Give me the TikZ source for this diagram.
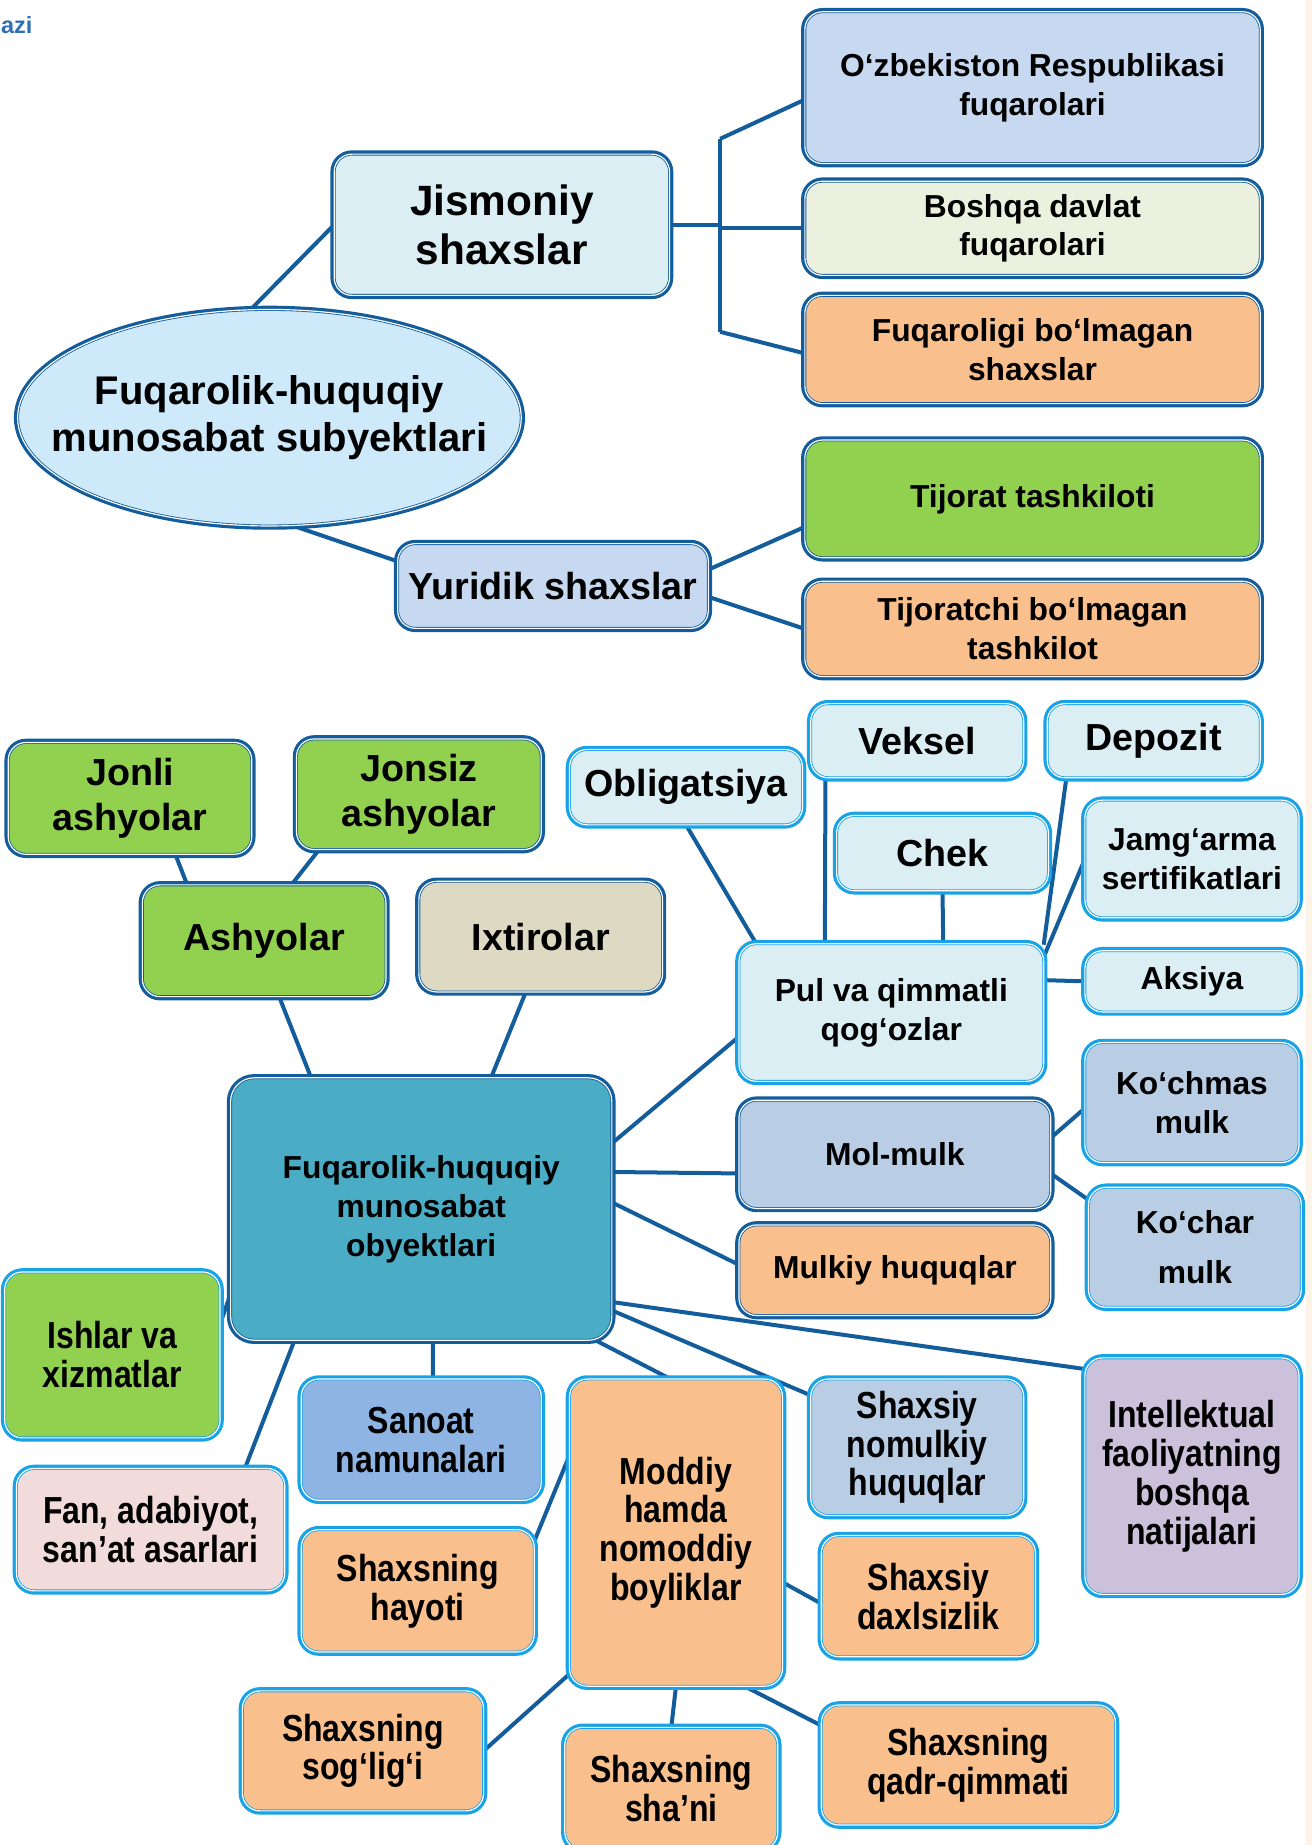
\documentclass[tikz,border=0pt]{standalone}
\usepackage{fontspec}
\setmainfont{Liberation Sans}
\newfontfamily\narrowfont{Liberation Sans}[FakeStretch=0.85]
\usetikzlibrary{shapes.geometric,positioning,backgrounds}

\definecolor{dkb}{HTML}{135D9C}
\definecolor{ltb}{HTML}{18A3E6}
\definecolor{pale}{HTML}{DAEEF3}
\definecolor{sky}{HTML}{CDE9FA}
\definecolor{steel}{HTML}{C6D9F1}
\definecolor{mint}{HTML}{EBF1DE}
\definecolor{peach}{HTML}{F9C08E}
\definecolor{leaf}{HTML}{92D050}
\definecolor{sand}{HTML}{DDD9C3}
\definecolor{mist}{HTML}{B9CDE5}
\definecolor{teal}{HTML}{4BACC6}
\definecolor{cobalt}{HTML}{8EB4E3}
\definecolor{rose}{HTML}{F2DCDB}
\definecolor{lilac}{HTML}{CCC1DA}
\definecolor{logoblue}{HTML}{2F6FB5}
\definecolor{cream}{HTML}{FDF3E6}

\tikzset{
  box/.style={rectangle, rounded corners=7.5pt, align=center, inner sep=1pt, outer sep=0pt,
    preaction={draw=#1, line width=3.2pt},
    postaction={draw=#1, double=white, double distance=0.5pt, line width=0.35pt}},
  box/.default=dkb,
  lbox/.style={box=ltb},
  link/.style={draw=dkb, line width=1.7pt},
  fA/.style={font=\bfseries\fontsize{18}{21}\selectfont},
  fB/.style={font=\bfseries\fontsize{17}{20}\selectfont},
  fC/.style={font=\bfseries\fontsize{16}{19}\selectfont},
  fD/.style={font=\bfseries\fontsize{13.5}{16.5}\selectfont},
  fN/.style={font=\narrowfont\bfseries\fontsize{16}{16.5}\selectfont},
  wide/.style={minimum width=193.5pt}
}

\begin{document}
\begin{tikzpicture}[x=0.5pt, y=-0.5pt]
  \useasboundingbox (0,0) rectangle (1115,1568);
  \fill[cream] (1110,0) rectangle (1115,1568);
  \node[anchor=west, text=logoblue, font=\bfseries\fontsize{10}{11}\selectfont, inner sep=0pt] (logo) at (0.5,21) {azi};

  \node[box, ellipse, fill=sky, minimum width=214pt, minimum height=92pt, inner sep=0pt,
    label={[fB, align=center]center:Fuqarolik-huquqiy\\munosabat subyektlari}] (subj) at (229,355) {};
  \node[box, fill=pale, minimum width=142.5pt, minimum height=60pt, fA] (jism) at (426.5,191) {Jismoniy\\shaxslar};
  \node[box, fill=steel, minimum width=132pt, minimum height=36pt, fC] (yur) at (470,498) {Yuridik shaxslar};
  \node[box, fill=steel, wide, minimum height=64.5pt, fD] (uzb) at (877.5,74.5) {O‘zbekiston Respublikasi\\fuqarolari};
  \node[box, fill=mint, wide, minimum height=40pt, fD] (bosh) [below=7.5pt of uzb] {Boshqa davlat\\fuqarolari};
  \node[box, fill=peach, wide, minimum height=46pt, fD] (fuqb) [below=8.5pt of bosh] {Fuqaroligi bo‘lmagan\\shaxslar};
  \node[box, fill=leaf, wide, minimum height=50pt, fD] (tij) [below=15.5pt of fuqb] {Tijorat tashkiloti};
  \node[box, fill=peach, wide, minimum height=40.5pt, fD] (tijb) [below=10pt of tij] {Tijoratchi bo‘lmagan\\tashkilot};
  \coordinate (brt) at (612,118);
  \coordinate (brb) at (612,282);

  \node[box, fill=leaf, minimum width=103.5pt, minimum height=47.5pt, fC] (jonli) at (110.5,678.5) {Jonli\\ashyolar};
  \node[box, fill=leaf, minimum width=104pt, minimum height=47pt, fC] (jonsiz) at (356,675) {Jonsiz\\ashyolar};
  \node[box, fill=leaf, minimum width=103.5pt, minimum height=47.5pt, fC] (ash) at (224.5,799.5) {Ashyolar};
  \node[box, fill=sand, minimum width=103.5pt, minimum height=47pt, fC] (ixt) at (459.5,796) {Ixtirolar};
  \node[lbox, fill=pale, minimum width=99pt, minimum height=32pt, fC] (obl) at (583,669) {Obligatsiya};
  \node[lbox, fill=pale, minimum width=90.5pt, minimum height=31.5pt, fC] (veks) at (779.5,629.5) {Veksel};
  \node[lbox, fill=pale, minimum width=90.5pt, minimum height=31.5pt, fC] (depo) at (980.5,629.5) {Depozit};
  \node[lbox, fill=pale, minimum width=90pt, minimum height=32pt, fC] (chek) at (801,725) {Chek};
  \node[lbox, fill=pale, minimum width=91pt, minimum height=50pt, fD] (jamg) at (1013,730) {Jamg‘arma\\sertifikatlari};
  \node[lbox, fill=pale, minimum width=129.5pt, minimum height=58.5pt, fD] (pul) at (757.5,860.5) {Pul va qimmatli\\qog‘ozlar};
  \node[lbox, fill=pale, minimum width=91pt, minimum height=26pt, fD] (aks) at (1013,834) {Aksiya};
  \node[lbox, fill=mist, minimum width=91pt, minimum height=51pt, fD] (kochm) at (1013,937) {Ko‘chmas\\mulk};
  \node[box, fill=mist, minimum width=132.5pt, minimum height=46pt, fD] (mol) at (760.5,981) {Mol-mulk};
  \node[lbox, fill=mist, minimum width=90.5pt, minimum height=51pt, fD] (kochr) at (1015.5,1060) {Ko‘char\\[5pt]mulk};
  \node[box, fill=peach, minimum width=132.5pt, minimum height=38.5pt, fD] (mulk) at (760.5,1079.5) {Mulkiy huquqlar};
  \node[box, fill=teal, rounded corners=10pt, minimum width=162pt, minimum height=111.5pt, fD] (obj) at (358,1027.5) {Fuqarolik-huquqiy\\munosabat\\obyektlari};
  \node[lbox, fill=leaf, minimum width=91.5pt, minimum height=70.5pt, fN] (ish) at (95.5,1151.5) {Ishlar va\\xizmatlar};
  \node[lbox, fill=cobalt, minimum width=102pt, minimum height=51.5pt, fN] (san) at (358,1223.5) {Sanoat\\namunalari};
  \node[lbox, fill=rose, minimum width=114pt, minimum height=52pt, fN] (fan) at (128,1300) {Fan, adabiyot,\\san’at asarlari};
  \node[lbox, fill=peach, minimum width=90.5pt, minimum height=130.5pt, fN] (mod) at (574.5,1302.5) {Moddiy\\hamda\\nomoddiy\\boyliklar};
  \node[lbox, fill=mist, minimum width=90.5pt, minimum height=58pt, fN] (shnom) at (779.5,1230) {Shaxsiy\\nomulkiy\\huquqlar};
  \node[lbox, fill=lilac, minimum width=91pt, minimum height=100.5pt, fN] (intel) at (1013,1254.5) {Intellektual\\faoliyatning\\boshqa\\natijalari};
  \node[lbox, fill=peach, minimum width=99pt, minimum height=52pt, fN] (hay) at (355,1352) {Shaxsning\\hayoti};
  \node[lbox, fill=peach, minimum width=91pt, minimum height=51.5pt, fN] (dax) at (789,1356.5) {Shaxsiy\\daxlsizlik};
  \node[lbox, fill=peach, minimum width=102.5pt, minimum height=51pt, fN] (sog) at (308.5,1488) {Shaxsning\\sog‘lig‘i};
  \node[lbox, fill=peach, minimum width=90.5pt, minimum height=52pt, fN] (shan) at (570.5,1520) {Shaxsning\\sha’ni};
  \node[lbox, fill=peach, minimum width=125pt, minimum height=51pt, fN] (qadr) at (823,1500) {Shaxsning\\qadr-qimmati};

  \begin{scope}[on background layer]
    \path[link]
      (subj.100) edge (jism.west)
      (subj.-78) edge (yur.171)
      (jism.east) edge (jism.east -| brt)
      (brt) edge (brb)
      (brt) edge (uzb.183)
      (bosh.west -| brt) edge (bosh.west)
      (brb) edge (fuqb.181)
      (yur.6) edge (tij.187)
      (yur.-4) edge (tijb.west);
    \path[link]
      (jonli.-51) edge (ash.144)
      (jonsiz.-151) edge (ash.64)
      (ash.-75) edge (obj.130)
      (ixt.-105) edge (obj.62)
      (obl.south) edge (pul.153)
      (veks.-158) edge (pul.134)
      (chek.south) edge (pul.53)
      (depo.-157) edge (pul.24)
      (jamg.west) edge (pul.20)
      (aks.west) edge (pul.12)
      (obj.19) edge (pul.189)
      (obj.11) edge (mol.187)
      (mol.6) edge (kochm.183)
      (mol.-7) edge (kochr.156)
      (obj.2) edge (mulk.178)
      (obj.-26) edge (intel.135)
      (obj.-28) edge (shnom.154)
      (obj.-37) edge (mod.92)
      (obj.204) edge (ish.16)
      (obj.-134) edge (fan.33)
      (obj.-85) edge (san.79)
      (mod.144) edge (hay.23)
      (mod.233) edge (sog.east)
      (mod.south) edge (shan.north)
      (mod.-66) edge (qadr.165)
      (mod.-25) edge (dax.184);
  \end{scope}
\end{tikzpicture}
\end{document}
